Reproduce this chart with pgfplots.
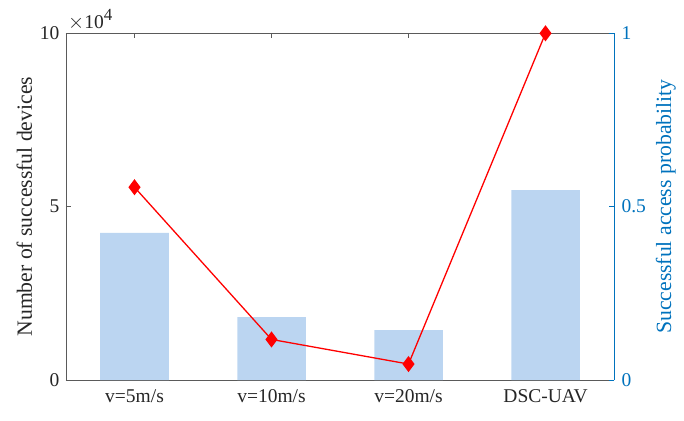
\documentclass[border=0pt]{standalone}
\usepackage{pgfplots}
\pgfplotsset{compat=1.18}
\usepackage{fontspec}
\setmainfont{Liberation Serif}
\definecolor{mblue}{RGB}{0,114,189}
\definecolor{barblue}{RGB}{187,213,241}
\definecolor{axgray}{RGB}{90,90,90}
\newcommand\fs{\fontsize{19.5bp}{23bp}\selectfont}
\newcommand\fl{\fontsize{21.7bp}{26bp}\selectfont}
\begin{document}
\begin{tikzpicture}
\useasboundingbox (-66bp,-41bp) rectangle (618bp,380bp);
\begin{axis}[
  scale only axis, width=548bp, height=346.7bp,
  xmin=0.5, xmax=4.5, ymin=0, ymax=100000,
  axis y line*=left,
  xtick={1,2,3,4},
  xticklabels={v=5m/s, v=10m/s, v=20m/s, DSC-UAV},
  ytick={0,50000,100000},
  yticklabels={0,5,10},
  scaled y ticks=false,
  tick align=inside, major tick length=5bp,
  axis line style={draw=axgray, line width=0.6bp},
  tick style={draw=axgray, line width=0.6bp},
  tick label style={font=\fs, text=black!85},
  xticklabel style={yshift=-6bp},
  yticklabel style={xshift=-3bp},
  ylabel={Number of successful devices},
  ylabel style={at={(rel axis cs:0,0.5)}, anchor=base, yshift=34bp, font=\fl, text=black!85},
  clip=false,
]
\addplot[ybar, bar width=0.5, fill=barblue, draw=none] coordinates {(1,42400) (2,18100) (3,14400) (4,54800)};
\node[anchor=base west, inner sep=0pt, font=\fs, text=black!85] at (rel axis cs:0,1) [xshift=2bp, yshift=5bp] {$\times$10\textsuperscript{\fontsize{17bp}{20bp}\selectfont 4}};
\end{axis}
\begin{axis}[
  scale only axis, width=548bp, height=346.7bp,
  xmin=0.5, xmax=4.5, ymin=0, ymax=1,
  axis x line=none,
  axis y line*=right,
  ytick={0,0.5,1},
  yticklabels={0,0.5,1},
  tick align=inside, major tick length=5bp,
  axis line style={draw=mblue, line width=0.6bp},
  tick style={draw=mblue, line width=0.6bp},
  tick label style={font=\fs, text=mblue},
  yticklabel style={xshift=4bp},
  ylabel={Successful access probability},
  ylabel style={at={(rel axis cs:1,0.5)}, anchor=base, yshift=-57bp, font=\fl, text=mblue},
  clip=false,
]
\addplot[red, line width=1.3bp, mark=diamond*, mark size=7bp, mark options={fill=red, draw=red, solid}] coordinates {(1,0.556) (2,0.117) (3,0.046) (4,1.0)};
\end{axis}
\end{tikzpicture}
\end{document}
